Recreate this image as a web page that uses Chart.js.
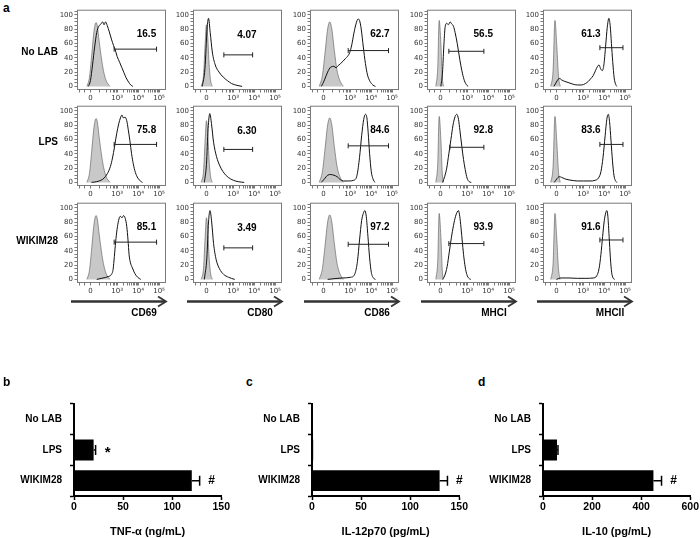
<!DOCTYPE html>
<html>
<head>
<meta charset="utf-8">
<script src="https://cdn.jsdelivr.net/npm/chart.js@4.4.0/dist/chart.umd.min.js"></script>
<style>
  html, body { margin: 0; padding: 0; background: #fff; overflow: hidden; }
  #fig { position: relative; width: 700px; height: 538px; font-family: "Liberation Sans", Arial, sans-serif; }
  #fig canvas { position: absolute; }
  .lbl { position: absolute; font-weight: bold; font-size: 10px; line-height: 12px; color: #000; white-space: nowrap; }
  .panel { position: absolute; font-weight: bold; font-size: 12px; line-height: 12px; color: #000; }
</style>
</head>
<body>
<div id="fig"></div>
<script>
// ===== Data: flow cytometry histograms (x in display decades, y = % of max) =====
const groups = ["No LAB", "LPS", "WIKIM28"];
const markers = ["CD69", "CD80", "CD86", "MHCI", "MHCII"];

const xMajorTicks = [0, 1.27, 2.27, 3.27];
const xMajorLabels = ["0", "10³", "10⁴", "10⁵"];
const yMajorTicks = [0, 20, 40, 60, 80, 100];

const pctNoLab = ["16.5", "4.07", "62.7", "56.5", "61.3"];
const pctLps = ["75.8", "6.30", "84.6", "92.8", "83.6"];
const pctWikim = ["85.1", "3.49", "97.2", "93.9", "91.6"];

// gate [start, end, height] per group
const gateCD69 = [[1.13, 3.15, 52], [1.13, 3.15, 53], [1.13, 3.15, 52]];
const gateCD80 = [[0.83, 2.2, 44], [0.83, 2.2, 46], [0.83, 2.2, 44]];
const gateCD86 = [[1.18, 3.1, 50], [1.18, 3.1, 51], [1.18, 3.1, 49]];
const gateMHCI = [[0.4, 2.07, 49], [0.45, 2.07, 49], [0.4, 2.07, 50]];
const gateMHCII = [[2.07, 3.17, 54], [2.07, 3.17, 53], [2.07, 3.17, 55]];

// isotype controls (grey filled)
const cd69Ctrl = [[-0.17,0],[-0.05,12],[0.05,40],[0.15,72],[0.22,86],[0.27,89],[0.33,84],[0.42,62],[0.52,40],[0.62,22],[0.75,8],[0.93,0]];
const cd80Ctrl = [[-0.25,0],[-0.14,15],[-0.06,60],[0,86],[0.06,70],[0.13,30],[0.2,8],[0.28,0]];
const cd86Ctrl = [[-0.2,0],[-0.05,15],[0.08,48],[0.2,80],[0.3,90],[0.4,80],[0.52,50],[0.65,22],[0.8,7],[0.95,0]];
const mhc1Ctrl = [[-0.22,0],[-0.13,25],[-0.06,92],[0.02,60],[0.09,12],[0.15,0]];
const mhc2Ctrl = [[-0.27,0],[-0.16,22],[-0.07,92],[0.02,55],[0.1,14],[0.18,0]];

// stained samples (black line)
const cd69NoLab = [[-0.1,0],[0,8],[0.1,30],[0.2,55],[0.3,75],[0.4,84],[0.5,87],[0.58,90],[0.65,86],[0.72,90],[0.8,85],[0.9,76],[1,66],[1.1,57],[1.17,52],[1.27,42],[1.4,33],[1.5,26],[1.6,19],[1.7,12],[1.82,6],[1.92,2],[2.02,0]];
const cd69Lps = [[0.05,0],[0.3,1],[0.5,3],[0.65,6],[0.8,12],[0.95,22],[1.05,34],[1.15,50],[1.25,68],[1.35,82],[1.43,90],[1.5,94],[1.57,90],[1.65,91],[1.73,86],[1.8,74],[1.88,58],[1.96,40],[2.04,26],[2.14,14],[2.26,6],[2.38,2],[2.48,0]];
const cd69Wikim = [[0.3,0],[0.6,2],[0.85,4],[1,7],[1.08,14],[1.14,32],[1.2,52],[1.27,70],[1.34,82],[1.42,88],[1.5,86],[1.58,89],[1.66,85],[1.73,74],[1.79,55],[1.84,35],[1.9,24],[2,16],[2.12,8],[2.25,3],[2.4,0]];

const cd80NoLab = [[-0.2,0],[-0.07,25],[0.03,80],[0.1,95],[0.18,75],[0.28,48],[0.42,30],[0.6,20],[0.8,13],[1,8],[1.2,4],[1.45,1.5],[1.7,0]];
const cd80Lps = [[-0.1,0],[0,25],[0.08,75],[0.16,96],[0.24,82],[0.34,56],[0.48,36],[0.64,23],[0.84,13],[1.04,7],[1.28,3],[1.52,1],[1.8,0]];
const cd80Wikim = [[-0.1,0],[0.02,30],[0.1,80],[0.17,96],[0.25,80],[0.34,50],[0.46,28],[0.62,15],[0.82,7],[1.05,3],[1.35,0]];

const cd86NoLab = [[-0.1,0],[0.05,9],[0.2,20],[0.35,27],[0.5,28],[0.6,26],[0.7,29],[0.82,32],[0.93,35],[1.05,39],[1.15,42],[1.25,47],[1.35,58],[1.45,74],[1.55,87],[1.65,94],[1.72,92],[1.8,80],[1.9,55],[2,32],[2.1,16],[2.22,7],[2.35,2],[2.48,0]];
const cd86Lps = [[-0.1,0],[0.05,5],[0.2,10],[0.35,11],[0.5,10],[0.65,8],[0.8,4],[0.95,2],[1.2,2],[1.45,3],[1.6,10],[1.72,35],[1.82,65],[1.92,88],[2,95],[2.07,90],[2.13,70],[2.2,40],[2.28,15],[2.36,5],[2.45,0]];
const cd86Wikim = [[0.2,0],[0.5,1],[0.9,2],[1.3,3],[1.5,8],[1.62,25],[1.72,55],[1.82,82],[1.9,92],[1.97,96],[2.04,88],[2.12,60],[2.2,30],[2.28,10],[2.38,2],[2.48,0]];

const mhc1NoLab = [[0.02,0],[0.1,20],[0.16,55],[0.22,82],[0.3,88],[0.38,86],[0.46,90],[0.54,87],[0.62,84],[0.7,75],[0.8,60],[0.92,38],[1.02,22],[1.12,10],[1.22,3],[1.32,0]];
const mhc1Lps = [[0.1,0],[0.2,8],[0.3,20],[0.4,40],[0.5,60],[0.6,80],[0.7,92],[0.78,95],[0.86,88],[0.93,72],[1.02,50],[1.1,32],[1.18,18],[1.27,6],[1.37,1],[1.47,0]];
const mhc1Wikim = [[0.1,0],[0.2,5],[0.32,18],[0.42,38],[0.52,58],[0.62,75],[0.72,88],[0.8,94],[0.86,96],[0.92,88],[0.98,72],[1.05,50],[1.12,30],[1.2,14],[1.28,5],[1.38,1],[1.45,0]];

const mhc2NoLab = [[-0.12,0],[-0.02,5],[0.08,10],[0.16,11],[0.25,9],[0.4,7],[0.6,5],[0.8,3],[1,2],[1.2,2],[1.38,4],[1.52,7],[1.64,11],[1.75,15],[1.86,22],[1.96,28],[2.03,30],[2.1,25],[2.18,22],[2.26,30],[2.34,55],[2.42,82],[2.5,95],[2.56,85],[2.62,60],[2.68,35],[2.75,12],[2.82,3],[2.88,0]];
const mhc2Lps = [[-0.1,0],[0.02,5],[0.13,8],[0.25,7],[0.4,5],[0.6,3.5],[0.8,2.5],[1,2],[1.3,2],[1.6,2],[1.85,3],[2,6],[2.12,15],[2.22,35],[2.32,65],[2.4,88],[2.47,95],[2.53,85],[2.6,58],[2.67,30],[2.74,10],[2.8,3],[2.88,0]];
const mhc2Wikim = [[0,0],[0.2,2],[0.6,2],[1,1.5],[1.4,1.5],[1.75,2],[1.92,5],[2.03,15],[2.12,35],[2.2,60],[2.28,82],[2.35,93],[2.4,96],[2.45,88],[2.51,60],[2.57,30],[2.63,10],[2.7,2],[2.78,0]];

// ===== Data: cytokine bars =====
const tnfMean = [0, 20, 120], tnfErr = [0, 2, 8], tnfSig = ["", "*", "#"];
const il12Mean = [0, 1.2, 130], il12Err = [0, 0, 8], il12Sig = ["", "", "#"];
const il10Mean = [0, 57, 450], il10Err = [0, 4, 33], il10Sig = ["", "", "#"];
const tnfTicks = [0, 50, 100, 150];
const il12Ticks = [0, 50, 100, 150];
const il10Ticks = [0, 200, 400, 600];

// ===== Tables built from the arrays above =====
const controls = [cd69Ctrl, cd80Ctrl, cd86Ctrl, mhc1Ctrl, mhc2Ctrl];
const samples = [
  [cd69NoLab, cd80NoLab, cd86NoLab, mhc1NoLab, mhc2NoLab],
  [cd69Lps, cd80Lps, cd86Lps, mhc1Lps, mhc2Lps],
  [cd69Wikim, cd80Wikim, cd86Wikim, mhc1Wikim, mhc2Wikim],
];
const pcts = [pctNoLab, pctLps, pctWikim];
const gates = [gateCD69, gateCD80, gateCD86, gateMHCI, gateMHCII];

// ===== Layout =====
const FONT = "'Liberation Sans', Arial, sans-serif";
const TICKFONT = "'DejaVu Sans', sans-serif";
const HB = { lefts: [77, 193, 310, 427, 543], tops: [8, 104, 201], w: 89, h: 82, axisW: 19, axisH: 15, padT: 4, padR: 6 };
const pctPos = [[2.67, 73], [1.93, 72], [2.69, 73], [2.04, 73], [1.64, 73]];

const minorX = [-0.5, -0.3, 0.45, 0.75, 0.95, 1.08, 1.17, 1.23];
[1.27, 2.27].forEach((d) => { for (let k = 2; k <= 9; k++) minorX.push(d + Math.log10(k)); });
const xTickPos = xMajorTicks.concat(minorX).sort((a, b) => a - b);
const yTickPos = [];
for (let v = 0; v <= 105; v += 5) yTickPos.push(v);

const fig = document.getElementById("fig");

function makeCanvas(left, top, w, h) {
  const c = document.createElement("canvas");
  c.width = w; c.height = h;
  c.style.left = left + "px"; c.style.top = top + "px";
  c.style.width = w + "px"; c.style.height = h + "px";
  fig.appendChild(c);
  return c;
}

function addText(cls, text, left, top, width, align) {
  const d = document.createElement("div");
  d.className = cls;
  d.textContent = text;
  d.style.left = left + "px"; d.style.top = top + "px";
  if (width) { d.style.width = width + "px"; d.style.textAlign = align; }
  fig.appendChild(d);
}

const xy = (pts) => pts.map(([x, y]) => ({ x, y }));

// ===== Histogram decorations: frame, gate %, axis arrow =====
const histDecor = {
  id: "histDecor",
  afterDatasetsDraw(chart, args, opts) {
    const { ctx, chartArea: a, scales: { x, y } } = chart;
    ctx.save();
    ctx.strokeStyle = "#7a7a7a";
    ctx.lineWidth = 1;
    ctx.strokeRect(a.left + 0.5, a.top + 0.5, a.width - 1, a.height - 1);
    ctx.fillStyle = "#000";
    ctx.font = "bold 10px " + FONT;
    ctx.textAlign = "center";
    ctx.textBaseline = "middle";
    ctx.fillText(opts.pct, x.getPixelForValue(opts.pos[0]), y.getPixelForValue(opts.pos[1]));
    if (opts.marker) {
      const ay = a.bottom + 18.5;
      ctx.strokeStyle = "#333";
      ctx.lineWidth = 2.5;
      ctx.beginPath();
      ctx.moveTo(a.left - 6, ay);
      ctx.lineTo(a.right - 1, ay);
      ctx.stroke();
      ctx.lineWidth = 1.8;
      ctx.beginPath();
      ctx.moveTo(a.right - 8, ay - 5);
      ctx.lineTo(a.right, ay);
      ctx.lineTo(a.right - 8, ay + 5);
      ctx.stroke();
      ctx.fillText(opts.marker, a.left + 67, a.bottom + 30);
    }
    ctx.restore();
  },
};

function histChart(row, col) {
  const last = row === 2;
  const extra = last ? 26 : 0;
  const c = makeCanvas(HB.lefts[col] - HB.axisW, HB.tops[row] - HB.padT,
    HB.axisW + HB.w + HB.padR, HB.padT + HB.h + HB.axisH + extra);
  const g = gates[col][row];
  const tickFont = { family: TICKFONT, size: 7 };
  new Chart(c, {
    type: "scatter",
    data: {
      datasets: [
        {
          label: "gate",
          data: [{ x: g[0], y: g[2] }, { x: g[1], y: g[2] }],
          showLine: true,
          borderColor: "#222",
          borderWidth: 1,
          pointStyle: "line",
          rotation: 90,
          pointRadius: 2.5,
          pointBorderColor: "#222",
          pointBorderWidth: 1,
          order: 0,
        },
        {
          label: groups[row],
          data: xy(samples[row][col]),
          showLine: true,
          borderColor: "#111",
          borderWidth: 1,
          pointRadius: 0,
          cubicInterpolationMode: "monotone",
          order: 1,
        },
        {
          label: "isotype",
          data: xy(controls[col]),
          showLine: true,
          borderColor: "#555",
          borderWidth: 0.6,
          backgroundColor: "#c8c8c8",
          fill: "origin",
          pointRadius: 0,
          cubicInterpolationMode: "monotone",
          order: 2,
        },
      ],
    },
    options: {
      responsive: false,
      animation: false,
      events: [],
      layout: { padding: { top: HB.padT, right: HB.padR, left: 0, bottom: extra } },
      plugins: {
        legend: { display: false },
        tooltip: { enabled: false },
        histDecor: { pct: pcts[row][col], pos: pctPos[col], marker: last ? markers[col] : "" },
      },
      scales: {
        x: {
          type: "linear",
          min: -0.64,
          max: 3.6,
          afterBuildTicks: (s) => { s.ticks = xTickPos.map((v) => ({ value: v })); },
          afterFit: (s) => { s.height = HB.axisH; },
          ticks: {
            autoSkip: false,
            maxRotation: 0,
            padding: 1,
            color: "#333",
            font: tickFont,
            callback: (v) => {
              const i = xMajorTicks.findIndex((t) => Math.abs(t - v) < 1e-6);
              return i >= 0 ? xMajorLabels[i] : "";
            },
          },
          grid: { display: true, drawOnChartArea: false, tickLength: 2.5, tickColor: "#555", tickWidth: 0.8 },
          border: { display: false },
        },
        y: {
          min: -5,
          max: 107,
          afterBuildTicks: (s) => { s.ticks = yTickPos.map((v) => ({ value: v })); },
          afterFit: (s) => { s.width = HB.axisW; },
          ticks: {
            autoSkip: false,
            padding: 1.5,
            color: "#333",
            font: tickFont,
            callback: (v) => (yMajorTicks.includes(v) ? v : ""),
          },
          grid: { display: true, drawOnChartArea: false, tickLength: 2.5, tickColor: "#555", tickWidth: 0.8 },
          border: { display: false },
        },
      },
    },
    plugins: [histDecor],
  });
}

// ===== Bar decorations: error bars and significance marks =====
const barDecor = {
  id: "barDecor",
  afterDatasetsDraw(chart, args, opts) {
    const { ctx, scales: { x, y } } = chart;
    ctx.save();
    ctx.strokeStyle = "#000";
    ctx.fillStyle = "#000";
    ctx.lineWidth = 1.5;
    ctx.textAlign = "center";
    ctx.textBaseline = "middle";
    opts.mean.forEach((m, i) => {
      const yc = y.getPixelForValue(i);
      const x1 = x.getPixelForValue(m + opts.err[i]);
      if (opts.err[i] > 0) {
        ctx.beginPath();
        ctx.moveTo(x.getPixelForValue(m), yc);
        ctx.lineTo(x1, yc);
        ctx.moveTo(x1, yc - 5);
        ctx.lineTo(x1, yc + 5);
        ctx.stroke();
      }
      if (opts.sig[i] === "*") {
        ctx.font = "bold 15px " + FONT;
        ctx.fillText("*", x1 + 12, yc + 3);
      } else if (opts.sig[i]) {
        ctx.font = "bold 12px " + FONT;
        ctx.fillText(opts.sig[i], x1 + 12, yc);
      }
    });
    ctx.restore();
  },
};

function barChart(plotLeft, mean, err, sig, ticks, title) {
  const axisW = 74, plotW = 148, padR = 9;
  const c = makeCanvas(plotLeft - axisW, 390, axisW + plotW + padR, 150);
  const bold = (size) => ({ family: FONT, size, weight: "bold" });
  new Chart(c, {
    type: "bar",
    data: {
      labels: groups,
      datasets: [{ data: mean, backgroundColor: "#000", barPercentage: 0.68, categoryPercentage: 1 }],
    },
    options: {
      indexAxis: "y",
      responsive: false,
      animation: false,
      events: [],
      layout: { padding: { top: 9, right: padR, left: 0, bottom: 0 } },
      plugins: {
        legend: { display: false },
        tooltip: { enabled: false },
        barDecor: { mean, err, sig },
      },
      scales: {
        x: {
          type: "linear",
          min: ticks[0],
          max: ticks[ticks.length - 1],
          afterBuildTicks: (s) => { s.ticks = ticks.map((v) => ({ value: v })); },
          afterFit: (s) => { s.height = 44; },
          ticks: { color: "#000", font: bold(10.5), padding: 1, maxRotation: 0 },
          grid: { display: true, drawOnChartArea: false, tickLength: 4, tickWidth: 1.5, tickColor: "#000" },
          border: { display: true, color: "#000", width: 2 },
          title: { display: true, text: title, color: "#000", font: bold(11), padding: { top: 0, bottom: 1 } },
        },
        y: {
          afterFit: (s) => { s.width = axisW; },
          ticks: { color: "#000", font: bold(10), padding: 8 },
          grid: { display: true, drawOnChartArea: false, tickLength: 4, tickWidth: 1.5, tickColor: "#000" },
          border: { display: true, color: "#000", width: 2 },
        },
      },
    },
    plugins: [barDecor],
  });
}

// ===== Build figure =====
for (let r = 0; r < 3; r++) {
  for (let c = 0; c < 5; c++) histChart(r, c);
}
addText("panel", "a", 3, 2);
addText("lbl", groups[0], 0, 46, 58, "right");
addText("lbl", groups[1], 0, 136, 58, "right");
addText("lbl", groups[2], 0, 235, 58, "right");

addText("panel", "b", 3, 376);
addText("panel", "c", 246, 376);
addText("panel", "d", 478, 376);
barChart(74, tnfMean, tnfErr, tnfSig, tnfTicks, "TNF-α (ng/mL)");
barChart(312, il12Mean, il12Err, il12Sig, il12Ticks, "IL-12p70 (pg/mL)");
barChart(543, il10Mean, il10Err, il10Sig, il10Ticks, "IL-10 (pg/mL)");
</script>
</body>
</html>
